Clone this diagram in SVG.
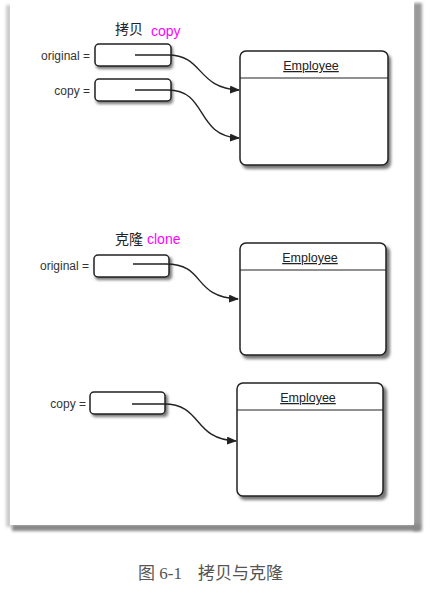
<svg xmlns="http://www.w3.org/2000/svg" width="432" height="594" viewBox="0 0 432 594">
<style>
.lbl{font-family:"Liberation Sans",Arial,sans-serif;font-size:12px;fill:#333}
.cn{font-family:"Liberation Serif","Noto Sans CJK SC",serif;font-size:14px;fill:#222}
.mg{font-family:"Liberation Sans","Noto Sans",sans-serif;font-size:14px;fill:#ff00ff}
.emp{font-family:"Liberation Sans",Arial,sans-serif;font-size:12.5px;fill:#222;text-decoration:underline}
.ref{fill:#fff;stroke:#222;stroke-width:1.5}
.obj{fill:#fff;stroke:#222;stroke-width:1.5}
.sh{fill:#777;filter:url(#blur)}
.con{fill:none;stroke:#222;stroke-width:1.4}
.cap{font-family:"Liberation Serif","Noto Sans CJK SC",serif;font-size:17px;fill:#555}
</style>
<defs>
<filter id="blur" x="-20%" y="-20%" width="140%" height="140%"><feGaussianBlur stdDeviation="1.8"/></filter>
<filter id="fb" x="-50%" y="-50%" width="200%" height="200%"><feGaussianBlur stdDeviation="1.5"/></filter>
<marker id="ah" markerWidth="10" markerHeight="8" refX="9" refY="4" orient="auto" markerUnits="userSpaceOnUse">
<path d="M0,0 L10,4 L0,8 Z" fill="#222"/>
</marker>
</defs>
<rect width="432" height="594" fill="#fff"/>
<g id="frame">
<rect x="6" y="5" width="6" height="522" fill="#ccc" filter="url(#fb)"/>
<rect x="413" y="3" width="9" height="528" fill="#999" filter="url(#fb)"/>
<rect x="12" y="524" width="408" height="7" fill="#888" filter="url(#fb)"/>
<rect x="10" y="0" width="404" height="525" fill="#fff"/>
</g>
<g id="title1">
<text class="cn" x="115" y="34">拷贝</text>
<text class="mg" x="151" y="36">copy</text>
</g>
<g id="ref-original-1">
<text class="lbl" x="90" y="60" text-anchor="end">original =</text>
<rect class="sh" x="96" y="46" width="77" height="23" rx="4"/>
<rect class="ref" x="95" y="44" width="76" height="22" rx="4"/>
</g>
<g id="ref-copy-1">
<text class="lbl" x="90" y="95" text-anchor="end">copy =</text>
<rect class="sh" x="96" y="81" width="77" height="23" rx="4"/>
<rect class="ref" x="95" y="79" width="76" height="22" rx="4"/>
</g>
<g id="emp-1">
<rect class="sh" x="242" y="54" width="149" height="115" rx="6"/>
<rect class="obj" x="240" y="51" width="148" height="114" rx="6"/>
<line x1="240" y1="78" x2="388" y2="78" stroke="#222" stroke-width="1"/>
<text class="emp" x="311" y="70" text-anchor="middle">Employee</text>
</g>
<g id="title2">
<text class="cn" x="115" y="244">克隆</text>
<text class="mg" x="147" y="244">clone</text>
</g>
<g id="ref-original-2">
<text class="lbl" x="89" y="270" text-anchor="end">original =</text>
<rect class="sh" x="95" y="257" width="77" height="23" rx="4"/>
<rect class="ref" x="94" y="255" width="75" height="22" rx="4"/>
</g>
<g id="emp-2">
<rect class="sh" x="242" y="246" width="148" height="113" rx="6"/>
<rect class="obj" x="240" y="243" width="146" height="112" rx="6"/>
<line x1="240" y1="270" x2="386" y2="270" stroke="#222" stroke-width="1"/>
<text class="emp" x="310" y="262" text-anchor="middle">Employee</text>
</g>
<g id="ref-copy-2">
<text class="lbl" x="86" y="408" text-anchor="end">copy =</text>
<rect class="sh" x="92" y="394" width="76" height="23" rx="4"/>
<rect class="ref" x="90" y="392" width="75" height="22" rx="4"/>
</g>
<g id="emp-3">
<rect class="sh" x="239" y="386" width="148" height="114" rx="6"/>
<rect class="obj" x="237" y="383" width="146" height="113" rx="6"/>
<line x1="237" y1="410" x2="383" y2="410" stroke="#222" stroke-width="1"/>
<text class="emp" x="308" y="402" text-anchor="middle">Employee</text>
</g>
<g id="connectors">
<path class="con" d="M135,55 L168,55 C204,55 196,88 239,90" marker-end="url(#ah)"/>
<path class="con" d="M135,90 L168,90 C208,90 195,136 239,138" marker-end="url(#ah)"/>
<path class="con" d="M133,264 L166,264 C206,264 192,297 238,299" marker-end="url(#ah)"/>
<path class="con" d="M132,404 L164,404 C203,404 192,439 236,441" marker-end="url(#ah)"/>
</g>
<g id="caption">
<text class="cap" x="138" y="579">图 6-1<tspan x="198">拷贝与克隆</tspan></text>
</g>
</svg>
